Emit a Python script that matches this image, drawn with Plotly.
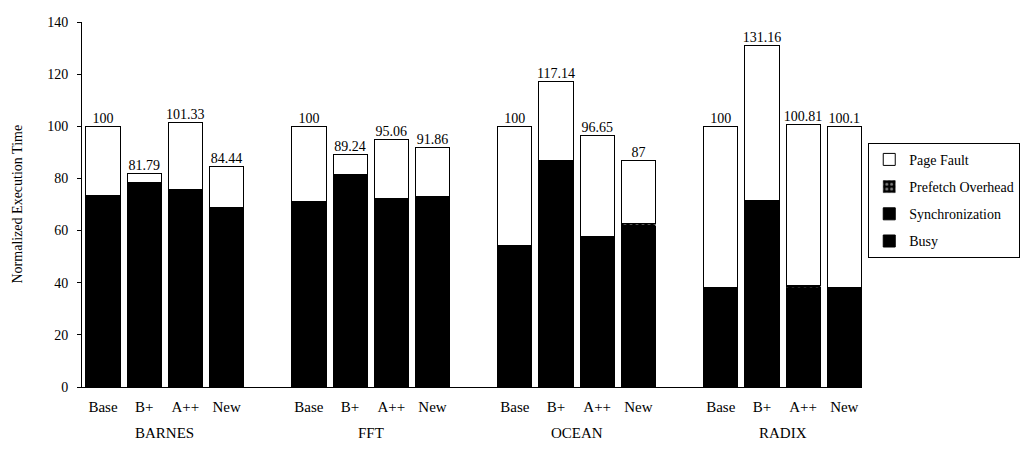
import plotly.graph_objects as go

groups = ["BARNES", "FFT", "OCEAN", "RADIX"]
configs = ["Base", "B+", "A++", "New"]

# values per bar, ordered group by group (Base, B+, A++, New)
busy = [66.0, 70.6, 68.0, 62.0,
        63.9, 73.2, 65.0, 65.6,
        49.0, 78.0, 52.0, 55.4,
        34.2, 64.2, 34.2, 34.2]
sync = [7.5, 7.9, 7.4, 6.9,
        7.1, 8.2, 7.1, 7.1,
        5.4, 8.7, 5.6, 6.2,
        3.8, 7.2, 3.8, 3.8]
prefetch = [0.0, 0.0, 0.2, 0.1,
            0.0, 0.0, 0.2, 0.2,
            0.0, 0.0, 0.3, 1.0,
            0.0, 0.0, 0.8, 0.1]
totals = [100, 81.79, 101.33, 84.44,
          100, 89.24, 95.06, 91.86,
          100, 117.14, 96.65, 87,
          100, 131.16, 100.81, 100.1]
total_labels = ["100", "81.79", "101.33", "84.44",
                "100", "89.24", "95.06", "91.86",
                "100", "117.14", "96.65", "87",
                "100", "131.16", "100.81", "100.1"]

page_fault = [round(t - b - s - p, 2) for t, b, s, p in zip(totals, busy, sync, prefetch)]

# x positions: 4 bars per group plus one empty slot between groups
xpos = [g * 5 + i for g in range(len(groups)) for i in range(len(configs))]
xlabels = [c for g in groups for c in configs]

FONT = "Liberation Serif, Times New Roman, serif"
line = dict(color="black", width=1)

fig = go.Figure()
fig.add_trace(go.Bar(x=xpos, y=busy, name="Busy", legendgroup="a", legendrank=4,
                     marker=dict(color="black", line=line)))
fig.add_trace(go.Bar(x=xpos, y=sync, name="Synchronization", legendgroup="b", legendrank=3,
                     marker=dict(color="black", line=line)))
fig.add_trace(go.Bar(x=xpos, y=prefetch, name="Prefetch Overhead", legendgroup="c", legendrank=2,
                     marker=dict(color="black", line=dict(color="black", width=0.5),
                                 pattern=dict(shape=".", fgcolor="white", bgcolor="black",
                                              size=6, solidity=0.3))))
fig.add_trace(go.Bar(x=xpos, y=page_fault, name="Page Fault", legendgroup="d", legendrank=1,
                     marker=dict(color="white", line=line)))
fig.add_trace(go.Scatter(x=xpos, y=totals, text=total_labels, mode="text",
                         textposition="top center", showlegend=False,
                         textfont=dict(family=FONT, size=14, color="black"),
                         cliponaxis=False, hoverinfo="skip"))

for g, name in enumerate(groups):
    fig.add_annotation(x=g * 5 + 1.5, y=0, xref="x", yref="paper", yshift=-46,
                       text=name, showarrow=False, yanchor="middle",
                       font=dict(family=FONT, size=15, color="black"))

fig.add_annotation(x=0, y=0.5, xref="paper", yref="paper", xshift=-65,
                   text="Normalized Execution Time", textangle=-90, showarrow=False,
                   xanchor="center", yanchor="middle",
                   font=dict(family=FONT, size=14, color="black"))

fig.update_layout(
    barmode="stack",
    bargap=0.17,
    width=1037, height=444,
    margin=dict(l=74, r=183, t=7, b=65),
    plot_bgcolor="white", paper_bgcolor="white",
    font=dict(family=FONT, size=14, color="black"),
    showlegend=True,
    legend=dict(x=1.008, y=0.669, xanchor="left", yanchor="top",
                traceorder="grouped", tracegroupgap=6,
                bordercolor="black", borderwidth=1,
                font=dict(family=FONT, size=14, color="black"),
                itemclick=False),
)
fig.update_xaxes(range=[-0.51, 18.43], tickvals=xpos, ticktext=xlabels,
                 showline=True, linecolor="black", linewidth=1, ticks="",
                 ticklabelstandoff=6,
                 showgrid=False, zeroline=False,
                 tickfont=dict(family=FONT, size=15, color="black"))
fig.update_yaxes(range=[0, 140], dtick=20, showline=True, linecolor="black", linewidth=1,
                 ticks="outside", ticklen=4, tickcolor="black", ticklabelstandoff=6,
                 ticklabeloverflow="allow",
                 showgrid=False, zeroline=False,
                 tickfont=dict(family=FONT, size=14, color="black"))

fig.write_html("out.html")
